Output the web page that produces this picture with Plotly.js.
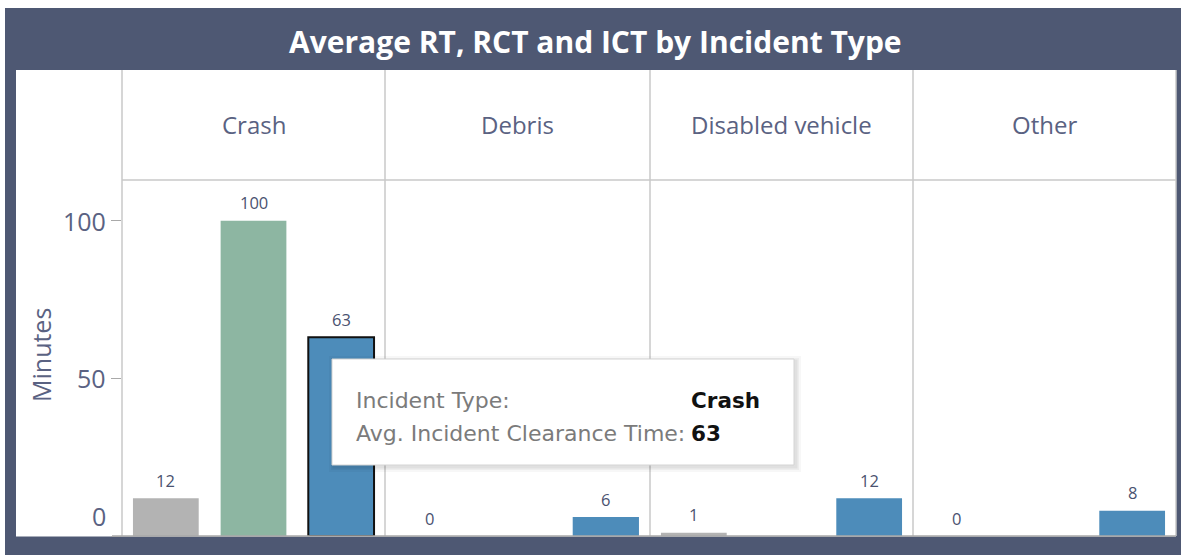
<!DOCTYPE html>
<html>
<head>
<meta charset="utf-8">
<script src="https://cdn.plot.ly/plotly-3.0.1.min.js"></script>
<style>
html,body{margin:0;padding:0;background:#ffffff;}
#chart{width:1184px;height:555px;}
</style>
</head>
<body>
<div id="chart"></div>
<script>
// ---- data ----
const chartTitle = "Average RT, RCT and ICT by Incident Type";
const incidentTypes = ["Crash", "Debris", "Disabled vehicle", "Other"];
const measures = ["RT", "RCT", "ICT"];
const measureNames = ["Avg. Response Time", "Avg. Roadway Clearance Time", "Avg. Incident Clearance Time"];
const rtValues  = [12, 0, 1, 0];
const rctValues = [100, null, null, null];
const ictValues = [63, 6, 12, 8];
const yTickValues = [0, 50, 100];
const yTickLabels = ["0", "50", "100"];
const yAxisTitle = "Minutes";
const selectedType = 0;      // tooltip shown for Crash / ICT
const selectedMeasure = 2;

// ---- style ----
const W = 1184, H = 555;
const px = v => v / W;
const py = v => (H - v) / H;
const colors = ["#b3b3b3", "#8db6a2", "#4d8cba"];
const frameColor = "#4e5873";
const gridColor = "#c9c9c9";
const textColor = "#5a6282";
const font = "Open Sans, Noto Sans, sans-serif";
const colEdges = [122, 385, 650, 913, 1176];
const plotTop = 180, plotBottom = 536;

const seriesValues = [rtValues, rctValues, ictValues];
const traces = [];
const annotations = [];
const layout = {
  width: W, height: H,
  margin: {l: 0, r: 0, t: 0, b: 0, pad: 0},
  paper_bgcolor: "rgba(0,0,0,0)",
  plot_bgcolor: "rgba(0,0,0,0)",
  showlegend: false,
  bargap: 0.25,
  font: {family: font, color: textColor},
  yaxis: {
    domain: [py(plotBottom), py(plotTop)],
    range: [0, 112.9],
    tickvals: yTickValues,
    showticklabels: false,
    ticks: "outside", ticklen: 10, tickwidth: 1, tickcolor: "#a9a9a9",
    showgrid: false, zeroline: false, showline: false,
    fixedrange: true
  },
  shapes: [],
  annotations: annotations
};

// y tick labels (the 0 label sits just above the baseline, as in the original)
yTickValues.forEach((v, k) => {
  annotations.push({
    xref: "paper", yref: "y", x: px(108), y: v,
    yshift: v === 0 ? 20 : 0,
    text: yTickLabels[k], showarrow: false,
    font: {family: font, size: 25, color: textColor},
    xanchor: "right", yanchor: "middle"
  });
});

incidentTypes.forEach((t, i) => {
  const ax = i === 0 ? "x" : "x" + (i + 1);
  const axKey = i === 0 ? "xaxis" : "xaxis" + (i + 1);
  const ys = seriesValues.map(s => s[i]);
  traces.push({
    type: "bar",
    x: measures,
    y: ys,
    xaxis: ax, yaxis: "y",
    name: t,
    marker: {
      color: colors,
      line: {color: "#111111", width: measures.map((m, j) => (i === selectedType && j === selectedMeasure) ? 2 : 0)}
    },
    hoverinfo: "none"
  });
  layout[axKey] = {
    domain: [px(colEdges[i]), px(colEdges[i + 1])],
    anchor: "y",
    type: "category",
    categoryarray: measures,
    range: [-0.5, 2.5],
    showticklabels: false, ticks: "",
    showgrid: false, zeroline: false, showline: false,
    fixedrange: true
  };
  // value labels
  ys.forEach((v, j) => {
    if (v === null) return;
    annotations.push({
      xref: ax, yref: "y", x: measures[j], y: v,
      yshift: 18, showarrow: false, text: String(v),
      font: {family: font, size: 16.5, color: "#4a5270"},
      xanchor: "center", yanchor: "middle"
    });
  });
  // facet headers
  annotations.push({
    xref: "paper", yref: "paper",
    x: px((colEdges[i] + colEdges[i + 1]) / 2), y: py(124),
    text: t, showarrow: false,
    font: {family: font, size: 24, color: textColor},
    xanchor: "center", yanchor: "middle"
  });
});

// frame and title bar
layout.shapes.push({type: "rect", xref: "paper", yref: "paper", x0: px(5), x1: px(1181), y0: py(555), y1: py(8), fillcolor: frameColor, line: {width: 0}, layer: "below"});
layout.shapes.push({type: "rect", xref: "paper", yref: "paper", x0: px(16), x1: px(1176), y0: py(536.5), y1: py(70), fillcolor: "#ffffff", line: {width: 0}, layer: "below"});
// facet grid lines
colEdges.forEach(x => {
  layout.shapes.push({type: "line", xref: "paper", yref: "paper", x0: px(x), x1: px(x), y0: py(plotBottom), y1: py(70), line: {color: gridColor, width: 1.5}, layer: "below"});
});
layout.shapes.push({type: "line", xref: "paper", yref: "paper", x0: px(122), x1: px(1176), y0: py(plotTop), y1: py(plotTop), line: {color: gridColor, width: 1.5}, layer: "below"});
layout.shapes.push({type: "line", xref: "paper", yref: "paper", x0: px(112), x1: px(1176), y0: py(plotBottom), y1: py(plotBottom), line: {color: "#a9a9a9", width: 1.5}, layer: "above"});

annotations.push({
  xref: "paper", yref: "paper", x: px(595), y: py(41),
  text: "<b>" + chartTitle + "</b>", showarrow: false,
  font: {family: font, size: 30, color: "#ffffff"},
  xanchor: "center", yanchor: "middle"
});
annotations.push({
  xref: "paper", yref: "paper", x: px(41), y: py(355),
  text: yAxisTitle, textangle: -90, showarrow: false,
  font: {family: font, size: 25, color: textColor},
  xanchor: "center", yanchor: "middle"
});

// tooltip
const tipX0 = 332, tipX1 = 794, tipY0 = 359, tipY1 = 465;
[[5, "rgba(0,0,0,0.03)"], [3, "rgba(0,0,0,0.04)"], [1.5, "rgba(0,0,0,0.05)"]].forEach(([o, c]) => {
  layout.shapes.push({type: "rect", xref: "paper", yref: "paper", x0: px(tipX0 - o + 2), x1: px(tipX1 + o + 2), y0: py(tipY1 + o + 2), y1: py(tipY0 - o + 2), fillcolor: c, line: {width: 0}, layer: "above"});
});
layout.shapes.push({type: "rect", xref: "paper", yref: "paper", x0: px(tipX0), x1: px(tipX1), y0: py(tipY1), y1: py(tipY0), fillcolor: "#ffffff", line: {color: "#d4d4d4", width: 1}, layer: "above"});
const tipFont = "DejaVu Sans, Verdana, sans-serif";
const tipRows = [["Incident Type:", incidentTypes[selectedType], 400], [measureNames[selectedMeasure] + ":", String(seriesValues[selectedMeasure][selectedType]), 433]];
tipRows.forEach(([label, val, y]) => {
  annotations.push({xref: "paper", yref: "paper", x: px(354), y: py(y), text: label, showarrow: false, font: {family: tipFont, size: 22, color: "#7b7b7b"}, xanchor: "left", yanchor: "middle"});
  annotations.push({xref: "paper", yref: "paper", x: px(689), y: py(y), text: "<b>" + val + "</b>", showarrow: false, font: {family: tipFont, size: 21.5, color: "#111111"}, xanchor: "left", yanchor: "middle"});
});

Plotly.newPlot("chart", traces, layout, {displayModeBar: false, staticPlot: true});
</script>
</body>
</html>
